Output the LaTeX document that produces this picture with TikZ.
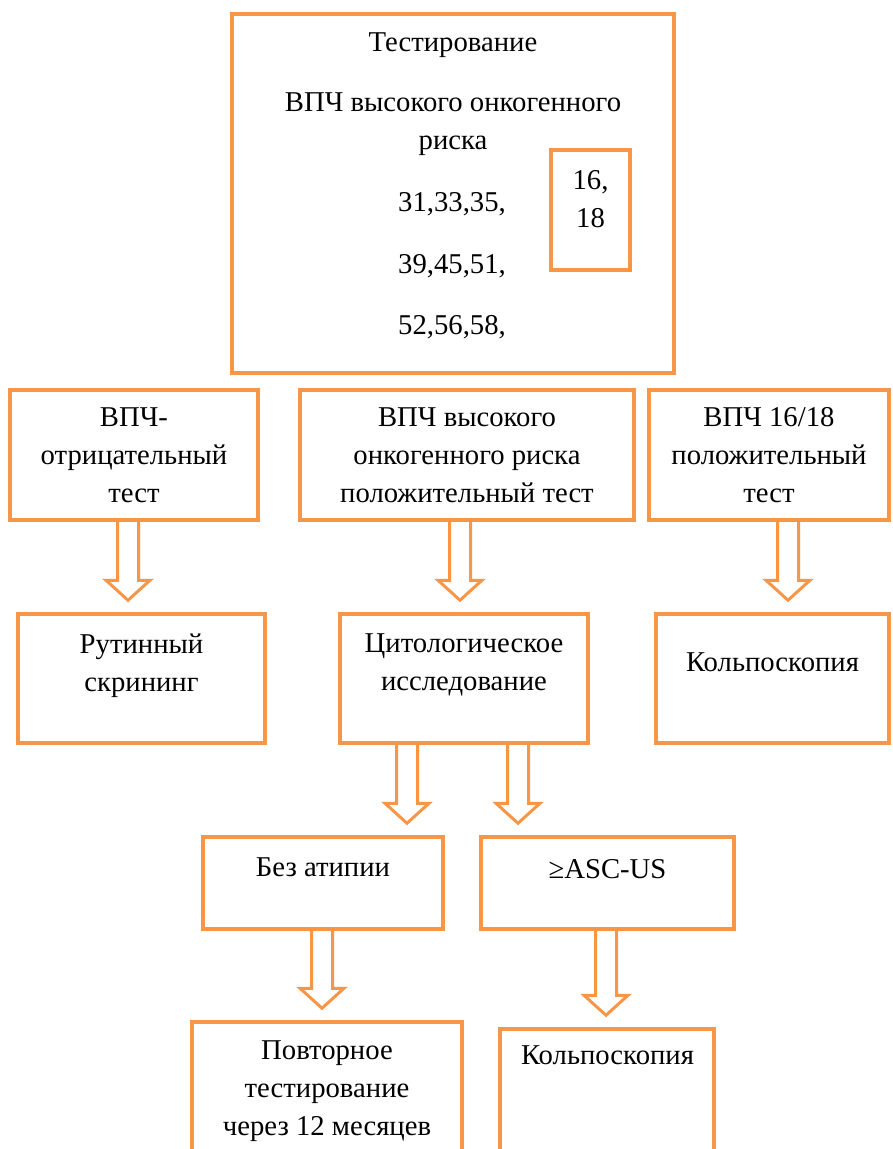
\documentclass[tikz,border=0pt]{standalone}
\usepackage{fontspec}
\setmainfont{Liberation Serif}
\usepackage{tikz}
\usetikzlibrary{calc}
\definecolor{hpvorange}{RGB}{247,150,70}

\begin{document}
\begin{tikzpicture}[x=1pt, y=-1pt, font=\fontsize{28.7}{38}\selectfont,
    box/.style={draw=hpvorange, line width=3.5pt, align=center, inner sep=0pt},
    hollow/.style={draw=hpvorange, line width=3pt, line join=miter,
      to path={let \p1=(\tikztostart), \p2=(\tikztotarget) in
        (\x1-10.5pt,\y1) -- (\x1-10.5pt,\y2+32pt) -- (\x1-22pt,\y2+32pt) -- (\x1,\y2+12pt)
        -- (\x1+22pt,\y2+32pt) -- (\x1+10.5pt,\y2+32pt) -- (\x1+10.5pt,\y1)}}]
        \useasboundingbox (0,0) rectangle (892,1149);
        \clip (0,0) rectangle (892,1149);

        % Nodes
        \node (test) [box, minimum width=442, minimum height=359] at (453,193.5) {};
        \node (title) at (453,45) {Тестирование};
        \node (group) [align=center] at (453,124) {ВПЧ высокого онкогенного\\риска};
        \node (types) [align=center, font=\fontsize{28.7}{61.5}\selectfont] at (452,266) {31,33,35,\\39,45,51,\\52,56,58,};
        \node (hr1618) [box, minimum width=79, minimum height=120, text depth=23pt] at (590.5,210) {16,\\18};

        \node (neg) [box, minimum width=248, minimum height=130] at (134,455) {ВПЧ-\\отрицательный\\тест};
        \node (hr) [box, minimum width=334, minimum height=130] at (467,455) {ВПЧ высокого\\онкогенного риска\\положительный тест};
        \node (pos) [box, minimum width=240, minimum height=130] at (769,455) {ВПЧ 16/18\\положительный\\тест};

        \node (routine) [box, minimum width=247, minimum height=129, text depth=32pt] at (141.5,678.5) {Рутинный\\скрининг};
        \node (cyto) [box, minimum width=248, minimum height=129, text depth=32pt] at (464,678.5) {Цитологическое\\исследование};
        \node (colpo) [box, minimum width=233, minimum height=129, text depth=32pt] at (772.5,678.5) {Кольпоскопия};

        \node (noatyp) [box, minimum width=240, minimum height=92, text depth=32pt] at (323,883) {Без атипии};
        \node (ascus) [box, minimum width=253, minimum height=92, text depth=28pt] at (607.5,883) {≥ASC-US};

        \node (repeat) [box, minimum width=270, minimum height=170, text depth=38pt] at (327,1107) {Повторное\\тестирование\\через 12 месяцев};
        \node (colpob) [box, minimum width=214, minimum height=170, text depth=118pt, text width=172, align=left] at (607,1114) {Кольпоскопия};

        % Arrows
        \draw[hollow] ([xshift=-6pt]neg.south) to (routine.north);
        \draw[hollow] ([xshift=-7pt]hr.south) to (cyto.north);
        \draw[hollow] ([xshift=19pt]pos.south) to (colpo.north);
        \draw[hollow] ([xshift=-57pt]cyto.south) to (noatyp.north);
        \draw[hollow] ([xshift=54pt]cyto.south) to (ascus.north);
        \draw[hollow] ([xshift=-1pt]noatyp.south) to (repeat.north);
        \draw[hollow] ([xshift=-1.5pt]ascus.south) to (colpob.north);
\end{tikzpicture}
\end{document}
